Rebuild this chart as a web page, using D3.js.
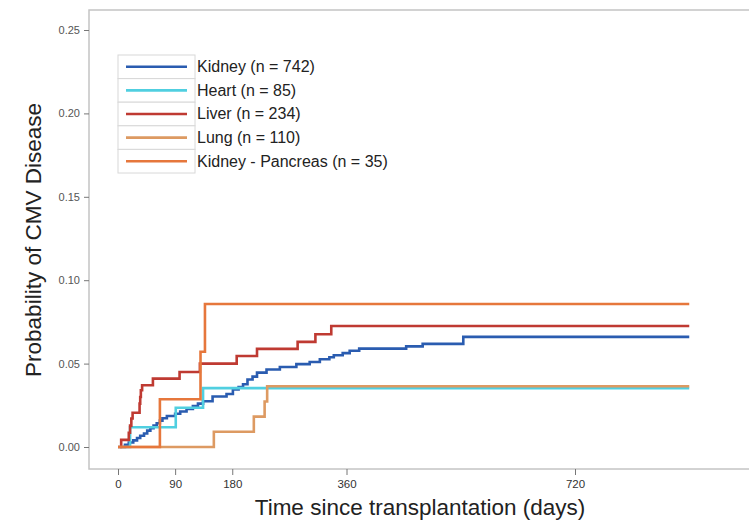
<!DOCTYPE html>
<html>
<head>
<meta charset="utf-8">
<script src="https://cdn.jsdelivr.net/npm/d3@7"></script>
<style>
  body { margin: 0; background: #fff; }
  text { font-family: "Liberation Sans", Arial, sans-serif; }
</style>
</head>
<body>
<div class="cmvChart"></div>
<script>
// step points [day, cumulative probability]
var kidney = [[0,0],[11,0.0013],[17,0.0027],[24,0.004],[30,0.0054],[35,0.0067],[41,0.0081],[46,0.0098],[51,0.0112],[56,0.0128],[61,0.0142],[66,0.0158],[70,0.0172],[77,0.0186],[90,0.0199],[98,0.0213],[108,0.0228],[118,0.0245],[126,0.026],[134,0.0274],[149,0.0303],[171,0.0318],[181,0.0345],[190,0.036],[197,0.0376],[204,0.0405],[212,0.0422],[219,0.0446],[234,0.0465],[255,0.048],[281,0.0497],[302,0.051],[318,0.0526],[333,0.0538],[340,0.055],[354,0.0563],[365,0.0577],[380,0.059],[454,0.0603],[480,0.0618],[544,0.066],[900,0.066]];
var heart = [[8,0],[19,0.0118],[91,0.0235],[134,0.0353],[900,0.0353]];
var liver = [[3,0],[5,0.0043],[17,0.0085],[19,0.0128],[21,0.0171],[23,0.0205],[34,0.026],[35,0.03],[36,0.034],[38,0.037],[55,0.041],[97,0.045],[129,0.05],[187,0.0546],[219,0.0588],[283,0.063],[311,0.0676],[336,0.0725],[900,0.0725]];
var lung = [[0,0],[151,0.0091],[214,0.0182],[231,0.0273],[235,0.0364],[900,0.0364]];
var kidneyPancreas = [[0,0],[66,0.0286],[130,0.0571],[137,0.0857],[900,0.0857]];

var seriesNames = ["Kidney (n = 742)", "Heart (n = 85)", "Liver (n = 234)", "Lung (n = 110)", "Kidney - Pancreas (n = 35)"];
var seriesColors = ["#2a5cb0", "#50cfe0", "#bf3a32", "#dd9a62", "#e6773c"];
var xTicks = [0, 90, 180, 360, 720];
var yTicks = [0, 0.05, 0.10, 0.15, 0.20, 0.25];

var allSeries = [kidney, heart, liver, lung, kidneyPancreas];

var width = 749, height = 521;
var panel = {left: 89, top: 10, right: 751, bottom: 469};

var svg = d3.select(".cmvChart")
    .append("svg")
        .attr("width", width)
        .attr("height", height);

var x = d3.scaleLinear()
    .domain([0, 720])
    .range([118, 575]);

var y = d3.scaleLinear()
    .domain([0, 0.25])
    .range([447, 30]);

// panel border
svg.append("rect")
    .attr("x", panel.left)
    .attr("y", panel.top)
    .attr("width", panel.right - panel.left)
    .attr("height", panel.bottom - panel.top)
    .attr("fill", "none")
    .attr("stroke", "#c4c4c4")
    .attr("stroke-width", 1.5);

// x axis
var xAxis = svg.append("g")
    .attr("transform", "translate(0," + panel.bottom + ")")
    .call(d3.axisBottom(x).tickValues(xTicks).tickSize(6).tickPadding(5).tickFormat(d3.format("d")));
xAxis.select(".domain").remove();
xAxis.selectAll("line").attr("stroke", "#777");
xAxis.selectAll("text").attr("font-size", 11.5).attr("fill", "#333");

// y axis
var yAxis = svg.append("g")
    .attr("transform", "translate(" + panel.left + ",0)")
    .call(d3.axisLeft(y).tickValues(yTicks).tickSize(5).tickPadding(4).tickFormat(d3.format(".2f")));
yAxis.select(".domain").remove();
yAxis.selectAll("line").attr("stroke", "#777");
yAxis.selectAll("text").attr("font-size", 11).attr("fill", "#555");

// axis titles
svg.append("text")
    .attr("x", 420)
    .attr("y", 515)
    .attr("text-anchor", "middle")
    .attr("font-size", 22.5)
    .attr("fill", "#222")
    .text("Time since transplantation (days)");

svg.append("text")
    .attr("transform", "translate(41,240) rotate(-90)")
    .attr("text-anchor", "middle")
    .attr("font-size", 22.5)
    .attr("fill", "#222")
    .text("Probability of CMV Disease");

// the step curves
var stepLine = d3.line()
    .x(function(d) { return x(d[0]); })
    .y(function(d) { return y(d[1]); })
    .curve(d3.curveStepAfter);

allSeries.forEach(function(s, i) {
    svg.append("path")
        .attr("fill", "none")
        .attr("stroke", seriesColors[i])
        .attr("stroke-width", 2.6)
        .attr("d", stepLine(s));
});

// legend
var legend = svg.append("g").attr("transform", "translate(118,55)");
var keyH = 23.6, keyW = 77;
seriesNames.forEach(function(name, i) {
    var row = legend.append("g").attr("transform", "translate(0," + (i * keyH) + ")");
    row.append("rect")
        .attr("width", keyW)
        .attr("height", keyH)
        .attr("fill", "#fff")
        .attr("stroke", "#d8d8d8");
    row.append("line")
        .attr("x1", 8).attr("x2", 69)
        .attr("y1", keyH / 2).attr("y2", keyH / 2)
        .attr("stroke", seriesColors[i])
        .attr("stroke-width", 2.6);
    row.append("text")
        .attr("x", keyW + 2)
        .attr("y", keyH / 2 + 5.5)
        .attr("font-size", 16)
        .attr("fill", "#222")
        .text(name);
});
</script>
</body>
</html>
